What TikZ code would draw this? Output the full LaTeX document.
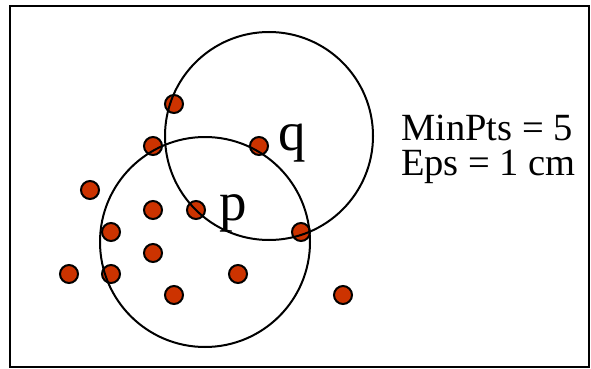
\documentclass[tikz,border=0pt]{standalone}
\usepackage{fontspec}
\setmainfont{Liberation Serif}
\definecolor{dotred}{RGB}{204,51,0}
\begin{document}
\begin{tikzpicture}[x=1pt,y=-1pt,
  pt/.style={circle,draw=black,fill=dotred,line width=2pt,minimum size=18pt,inner sep=0pt},
  ring/.style={draw=black,line width=2pt},
  lbl/.style={inner sep=0pt,anchor=base,font=\fontsize{55}{55}\selectfont},
  info/.style={inner sep=0pt,anchor=base west,font=\fontsize{38.5}{38.5}\selectfont}]
\useasboundingbox (0,0) rectangle (591,369);
\fill[white] (0,0) rectangle (591,369);
\draw[line width=2.5pt] (10,6) rectangle (589,367);
% points
\node[pt] (a1) at (174,104) {};
\node[pt] (a2) at (153,146) {};
\node[pt] (q)  at (259,146) {};
\node[pt] (a3) at (90,190) {};
\node[pt] (a4) at (153,210) {};
\node[pt] (p)  at (196,210) {};
\node[pt] (a5) at (111,232) {};
\node[pt] (a6) at (301,232) {};
\node[pt] (a7) at (153,253) {};
\node[pt] (a8) at (69,274) {};
\node[pt] (a9) at (111,274) {};
\node[pt] (a10) at (238,274) {};
\node[pt] (a11) at (174,295) {};
\node[pt] (a12) at (343,295) {};
% eps neighbourhoods
\draw[ring] (205,242) circle[radius=105];
\draw[ring] (269,136) circle[radius=104];
% labels
\node[lbl] (ql) at (292,150) {q};
\node[lbl] (pl) at (233,220) {p};
\node[info] (m1) at (401,140) {MinPts = 5};
\node[info] (m2) at (401,175) {Eps = 1 cm};
\end{tikzpicture}
\end{document}
